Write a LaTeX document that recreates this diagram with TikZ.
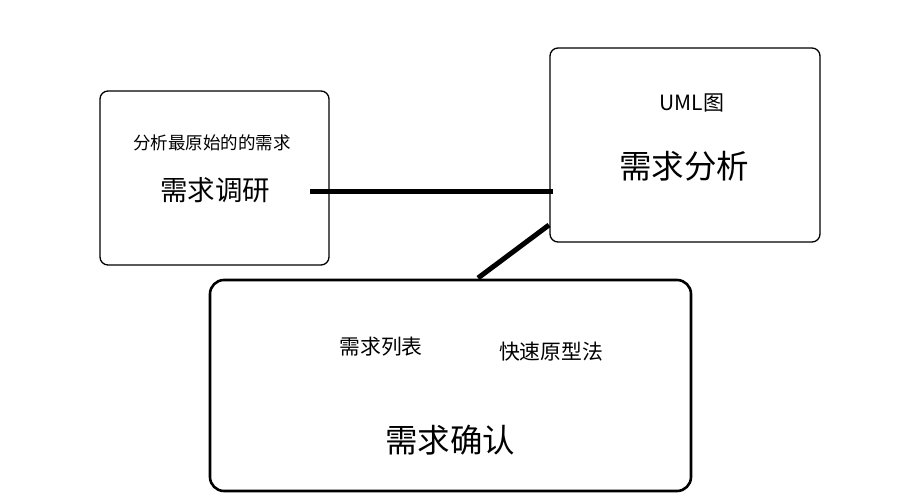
\documentclass[tikz,border=0pt]{standalone}
\usepackage{fontspec}
\setmainfont{Noto Sans CJK SC}
\usetikzlibrary{positioning}
\tikzset{
	kuang/.style={draw,rounded corners=8pt,line width=1.3pt,inner sep=0pt},
	dakuang/.style={draw,rounded corners=14pt,line width=2.6pt,inner sep=0pt},
	lianxian/.style={line width=5pt}
}
\newcommand{\zihao}[1]{\fontsize{#1}{#1}\selectfont}
\begin{document}
\begin{tikzpicture}[x=1pt,y=-1pt]
		\useasboundingbox (0,0) rectangle (900,500);
		\node[kuang,minimum width=229pt,minimum height=174pt] (diaoyan) at (214.5,178) {};
		\node[kuang,minimum width=270pt,minimum height=194pt] (fenxi) at (685,145) {};
		\node[dakuang,minimum width=481pt,minimum height=211pt] (queren) at (450.5,385.5) {};
		\node (diaoyanshuoming) at (212,143) {\zihao{17.5}分析最原始的的需求};
		\node (diaoyanming) at (215,190) {\zihao{27.5}需求调研};
		\node (uml) at (692,103) {\zihao{21}UML图};
		\node (fenximing) at (684,166) {\zihao{32.5}需求分析};
		\node (liebiao) at (381,347) {\zihao{20.8}需求列表};
		\node (yuanxing) at (551,352) {\zihao{20.8}快速原型法};
		\node (querenming) at (450,440) {\zihao{32.5}需求确认};
		% connectors
		\coordinate (a1) at (310,192);
		\coordinate (a2) at (553,192);
		\coordinate (b1) at (478,278);
		\coordinate (b2) at (549,225);
		\draw[lianxian] (a1) -- (a2);
		\draw[lianxian] (b1) -- (b2);
	\end{tikzpicture}
\end{document}
